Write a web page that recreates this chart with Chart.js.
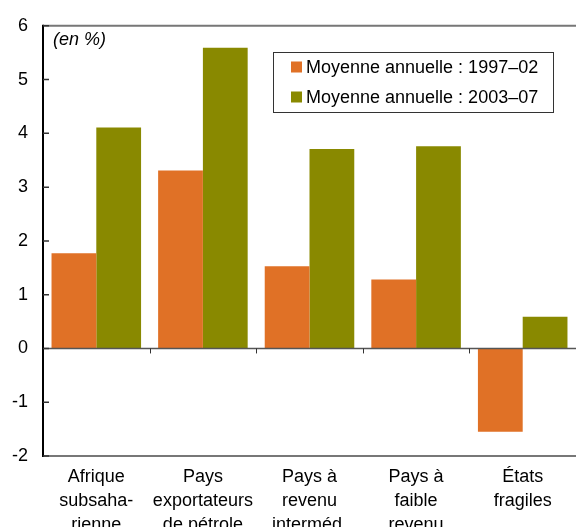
<!DOCTYPE html>
<html>
<head>
<meta charset="utf-8">
<script src="https://cdn.jsdelivr.net/npm/chart.js@4"></script>
<style>
  html, body { margin: 0; padding: 0; background: #fff; }
  #wrap { width: 576px; height: 527px; position: relative; }
</style>
</head>
<body>
<div id="wrap"><canvas id="chart"></canvas></div>
<script>
const categories = [
    ['Afrique', 'subsaha-', 'rienne'],
    ['Pays', 'exportateurs', 'de pétrole'],
    ['Pays à', 'revenu', 'interméd.'],
    ['Pays à', 'faible', 'revenu'],
    ['États', 'fragiles']
];
const seriesNames = ['Moyenne annuelle : 1997–02', 'Moyenne annuelle : 2003–07'];
const avg1997 = [1.77, 3.31, 1.53, 1.28, -1.55];
const avg2003 = [4.11, 5.59, 3.71, 3.76, 0.59];
const yTicks = [-2, -1, 0, 1, 2, 3, 4, 5, 6];

const ORANGE = '#E07126';
const GREEN = '#898900';
const FONT = '"Liberation Sans", Arial, sans-serif';

const framePlugin = {
    id: 'frame',
    afterDatasetsDraw(chart) {
        const { ctx, chartArea: a, scales: { x, y } } = chart;
        ctx.save();
        // top and bottom lines
        ctx.strokeStyle = '#777';
        ctx.lineWidth = 2;
        ctx.beginPath();
        ctx.moveTo(a.left, a.top); ctx.lineTo(a.right, a.top);
        ctx.moveTo(a.left, a.bottom); ctx.lineTo(a.right, a.bottom);
        ctx.stroke();
        // zero line
        const y0 = y.getPixelForValue(0);
        ctx.strokeStyle = '#555';
        ctx.lineWidth = 1.5;
        ctx.beginPath();
        ctx.moveTo(a.left, y0); ctx.lineTo(a.right, y0);
        ctx.stroke();
        // category separators on zero line
        ctx.lineWidth = 1;
        ctx.strokeStyle = '#333';
        ctx.beginPath();
        for (let i = 1; i < categories.length; i++) {
            const px = Math.round((x.getPixelForValue(i - 1) + x.getPixelForValue(i)) / 2) + 0.5;
            ctx.moveTo(px, y0); ctx.lineTo(px, y0 + 5);
        }
        ctx.stroke();
        // left axis + ticks
        ctx.strokeStyle = '#000';
        ctx.lineWidth = 2;
        ctx.beginPath();
        ctx.moveTo(a.left, a.top - 1); ctx.lineTo(a.left, a.bottom + 1);
        ctx.stroke();
        ctx.strokeStyle = '#333';
        ctx.lineWidth = 1.5;
        ctx.beginPath();
        yTicks.forEach(v => {
            const py = y.getPixelForValue(v);
            ctx.moveTo(a.left, py); ctx.lineTo(a.left + 6, py);
        });
        ctx.stroke();

        // unit label
        ctx.fillStyle = '#000';
        ctx.font = 'italic 18px ' + FONT;
        ctx.textBaseline = 'middle';
        ctx.textAlign = 'left';
        ctx.fillText('(en %)', 53, 40);

        // legend
        ctx.strokeStyle = '#333';
        ctx.lineWidth = 1;
        ctx.strokeRect(273.5, 52.5, 280, 60);
        const colors = [ORANGE, GREEN];
        ctx.font = '18px ' + FONT;
        seriesNames.forEach((name, i) => {
            const cy = 67 + i * 30;
            ctx.fillStyle = colors[i];
            ctx.fillRect(291, cy - 5.5, 11, 11);
            ctx.fillStyle = '#000';
            ctx.fillText(name, 306, cy + 1);
        });
        ctx.restore();
    }
};

new Chart(document.getElementById('chart'), {
    type: 'bar',
    data: {
        labels: categories,
        datasets: [
            { label: seriesNames[0], data: avg1997, backgroundColor: ORANGE },
            { label: seriesNames[1], data: avg2003, backgroundColor: GREEN }
        ]
    },
    options: {
        responsive: true,
        maintainAspectRatio: false,
        animation: false,
        layout: { padding: { top: 20, right: 0, left: 0, bottom: 0 } },
        datasets: { bar: { categoryPercentage: 0.84, barPercentage: 1.0 } },
        plugins: {
            legend: { display: false },
            tooltip: { enabled: false }
        },
        scales: {
            x: {
                grid: { display: false, drawTicks: false },
                border: { display: false },
                ticks: {
                    color: '#000',
                    font: { family: FONT, size: 18, lineHeight: 1.333 },
                    padding: 9,
                    maxRotation: 0,
                    autoSkip: false
                },
                afterFit(scale) { scale.height = 71; }
            },
            y: {
                min: -2,
                max: 6,
                grid: { display: false, drawTicks: false },
                border: { display: false },
                afterBuildTicks(scale) { scale.ticks = yTicks.map(v => ({ value: v })); },
                ticks: {
                    color: '#000',
                    font: { family: FONT, size: 18 },
                    padding: 15
                },
                afterFit(scale) { scale.width = 43; }
            }
        }
    },
    plugins: [framePlugin]
});
</script>
</body>
</html>
